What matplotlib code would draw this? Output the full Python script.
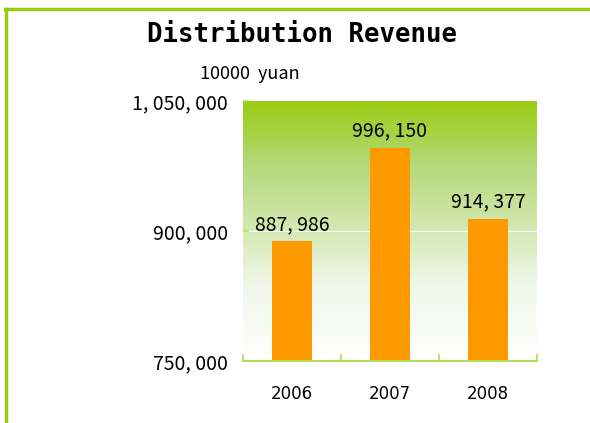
import matplotlib.pyplot as plt
import numpy as np
from matplotlib.colors import LinearSegmentedColormap

# datos
years = ["2006", "2007", "2008"]
revenue = [887986, 996150, 914377]
yticks = [750000, 900000, 1050000]
ytick_labels = ["750, 000", "900, 000", "1, 050, 000"]

green = "#99cc11"
orange = "#ff9900"
gothic = ["Noto Sans CJK JP", "DejaVu Sans"]

fig = plt.figure(figsize=(5.9, 4.23), dpi=100)
W, H = 590, 423

# marco verde arriba e izquierda
fig.add_artist(plt.Line2D([5 / W, 1], [1 - 9 / H, 1 - 9 / H], color=green, lw=2.5))
fig.add_artist(plt.Line2D([6 / W, 6 / W], [0, 1 - 9 / H], color=green, lw=2.5))

ax = fig.add_axes([243 / W, 1 - 361 / H, (537 - 243) / W, (361 - 101) / H])

# fondo degradado (verde arriba, blanco abajo)
cmap = LinearSegmentedColormap.from_list(
    "g", [(0, "#ffffff"), (0.3, "#f0f6e8"), (0.5, "#d4e9b2"), (0.75, "#b4d97a"), (1, green)])
grad = np.linspace(0, 1, 256).reshape(-1, 1)
ax.imshow(grad, cmap=cmap, aspect="auto", extent=[-0.5, 2.5, 750000, 1050000],
          origin="lower", vmin=0, vmax=1, zorder=0)

x = np.arange(len(years))
ax.bar(x, revenue, width=0.41, color=orange, zorder=2)
ax.axhline(900000, color="white", lw=0.8, zorder=1)

for xi, v in zip(x, revenue):
    ax.text(xi, v + 7000, f"{v:,}".replace(",", ", "), ha="center", va="bottom",
            fontsize=14, family=gothic)

ax.set_xlim(-0.5, 2.5)
ax.set_ylim(750000, 1050000)
ax.set_yticks(yticks)
ax.set_yticklabels(ytick_labels, family=gothic, fontsize=14)
ax.tick_params(axis="y", direction="in", length=4, color="#b5dc55", width=1.2, pad=11)
ax.set_xticks([-0.5, 0.5, 1.5, 2.5], minor=False)
ax.set_xticklabels([])
ax.set_xticks(x, minor=True)
ax.set_xticklabels(years, minor=True, fontsize=12)
ax.tick_params(axis="x", which="major", direction="in", length=5, color="#b5dc55", width=1.2)
ax.tick_params(axis="x", which="minor", length=0, pad=17)

for s in ["top", "right", "left"]:
    ax.spines[s].set_visible(False)
ax.spines["bottom"].set_color("#b5dc55")
ax.spines["bottom"].set_linewidth(1.5)

fig.text(302 / W, 1 - 35 / H, "Distribution Revenue", ha="center", va="center",
         fontsize=18.5, fontweight="bold", family=["DejaVu Sans Mono"])
fig.text(200 / W, 1 - 74 / H, "10000  yuan", ha="left", va="center",
         fontsize=13, family=gothic)

fig.savefig("out.png", dpi=100)
